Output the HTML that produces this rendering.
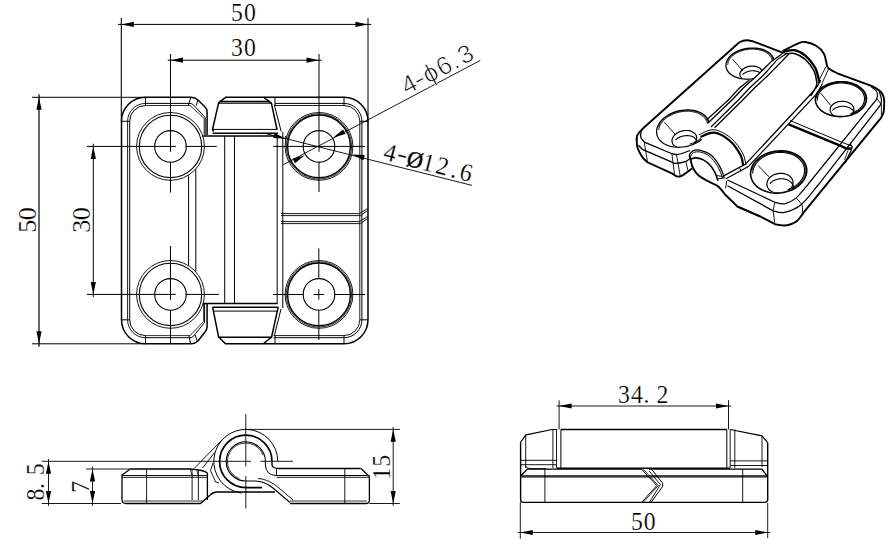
<!DOCTYPE html>
<html><head><meta charset="utf-8"><style>
html,body{margin:0;padding:0;background:#fff;width:895px;height:550px;overflow:hidden}
svg{display:block}
svg line, svg path, svg circle{stroke:#000;fill:none;stroke-linecap:butt}
svg .f{fill:#000;stroke:none}
svg path.w{fill:#fff;stroke:none}
svg text{fill:#000}
.serif{font-family:"Liberation Serif",serif}
.sans{font-family:"Liberation Sans",sans-serif}
</style></head><body>
<svg width="895" height="550" viewBox="0 0 895 550">
<rect width="895" height="550" fill="#fff"/>
<line x1="121.3" y1="18" x2="121.3" y2="121.3" stroke-width="1.1"/>
<line x1="368" y1="18" x2="368" y2="121.3" stroke-width="1.0"/>
<line x1="118" y1="24.4" x2="371.3" y2="24.4" stroke-width="1.0"/>
<polygon class="f" points="121.30,24.40 133.80,21.80 133.80,27.00"/>
<polygon class="f" points="368.00,24.40 355.50,27.00 355.50,21.80"/>
<line x1="170.5" y1="54" x2="170.5" y2="151.8" stroke-width="1.0"/>
<line x1="170.5" y1="161.6" x2="170.5" y2="192.5" stroke-width="1.0"/>
<line x1="319" y1="54" x2="319" y2="151.8" stroke-width="1.0"/>
<line x1="319" y1="161.6" x2="319" y2="192" stroke-width="1.0"/>
<line x1="167.8" y1="60.2" x2="321.6" y2="60.2" stroke-width="1.0"/>
<polygon class="f" points="170.50,60.20 183.00,57.60 183.00,62.80"/>
<polygon class="f" points="319.00,60.20 306.50,62.80 306.50,57.60"/>
<line x1="32" y1="97.3" x2="145.5" y2="97.3" stroke-width="1.0"/>
<line x1="32" y1="343.8" x2="145.5" y2="343.8" stroke-width="1.0"/>
<line x1="39" y1="94.3" x2="39" y2="346.7" stroke-width="1.2"/>
<polygon class="f" points="39.00,97.30 41.60,109.80 36.40,109.80"/>
<polygon class="f" points="39.00,343.80 36.40,331.30 41.60,331.30"/>
<line x1="87" y1="146.4" x2="175.8" y2="146.4" stroke-width="1.0"/>
<line x1="185.5" y1="146.4" x2="216.8" y2="146.4" stroke-width="1.0"/>
<line x1="87" y1="294.4" x2="175.8" y2="294.4" stroke-width="1.0"/>
<line x1="185.5" y1="294.4" x2="219" y2="294.4" stroke-width="1.0"/>
<line x1="93.3" y1="143.7" x2="93.3" y2="297.1" stroke-width="1.0"/>
<polygon class="f" points="93.30,146.40 95.90,158.90 90.70,158.90"/>
<polygon class="f" points="93.30,294.40 90.70,281.90 95.90,281.90"/>
<line x1="170.5" y1="246" x2="170.5" y2="299.8" stroke-width="1.0"/>
<line x1="170.5" y1="310" x2="170.5" y2="344" stroke-width="1.0"/>
<line x1="273.2" y1="146.4" x2="364.8" y2="146.4" stroke-width="1.0"/>
<line x1="273" y1="294.5" x2="303.2" y2="294.5" stroke-width="1.0"/>
<line x1="313.5" y1="294.5" x2="324.1" y2="294.5" stroke-width="1.0"/>
<line x1="334.6" y1="294.5" x2="365" y2="294.5" stroke-width="1.0"/>
<line x1="318.8" y1="248.4" x2="318.8" y2="278.7" stroke-width="1.0"/>
<line x1="318.8" y1="289.2" x2="318.8" y2="299.6" stroke-width="1.0"/>
<line x1="318.8" y1="310.3" x2="318.8" y2="340" stroke-width="1.0"/>
<circle cx="170.5" cy="146.4" r="15.8" stroke-width="1.1"/>
<circle cx="170.5" cy="146.4" r="31.2" stroke-width="1.1"/>
<circle cx="170.5" cy="146.4" r="33.9" stroke-width="0.9"/>
<circle cx="319" cy="146.4" r="15.8" stroke-width="1.1"/>
<circle cx="319" cy="146.4" r="31.4" stroke-width="1.4"/>
<circle cx="319" cy="146.4" r="32.65" stroke-width="0.8"/>
<circle cx="319" cy="146.4" r="33.9" stroke-width="0.9"/>
<circle cx="170.5" cy="294.4" r="15.8" stroke-width="1.1"/>
<circle cx="170.5" cy="294.4" r="31.2" stroke-width="1.1"/>
<circle cx="170.5" cy="294.4" r="33.9" stroke-width="0.9"/>
<circle cx="319" cy="294.4" r="15.8" stroke-width="1.1"/>
<circle cx="319" cy="294.4" r="31.4" stroke-width="1.4"/>
<circle cx="319" cy="294.4" r="32.65" stroke-width="0.8"/>
<circle cx="319" cy="294.4" r="33.9" stroke-width="0.9"/>
<path d="M207.1,135 L207.1,111.5 Q207.1,109 205,107 L198.5,100.5 Q195,97.3 191,97.3 L145.5,97.3 A24.0,24.0 0 0 0 121.5,121.3 L121.5,319.8 A24.0,24.0 0 0 0 145.5,343.8 L191,343.8 Q195,343.8 198,341 L205,332 Q207.1,329.5 207.1,327 L207.1,304" stroke-width="1.5"/>
<path d="M145.5,103.39999999999999 A17.9,17.9 0 0 0 127.6,121.3 L127.6,319.8 A17.9,17.9 0 0 0 145.5,337.7" stroke-width="0.9"/>
<path d="M145.5,105.5 A15.8,15.8 0 0 0 129.7,121.3 L129.7,319.8 A15.8,15.8 0 0 0 145.5,335.6" stroke-width="1.0"/>
<path d="M145.5,103.39999999999999 L190,103.39999999999999 Q192,103.39999999999999 193.5,104.99999999999999 L205.2,117.5 L205.2,135" stroke-width="1.0"/>
<path d="M145.5,105.5 L190,105.5 L204.2,118.5 L204.2,135" stroke-width="0.8"/>
<path d="M145.5,337.7 L190,337.7 Q192,337.7 193.5,336.2 L204.6,322.5 L204.6,304" stroke-width="1.0"/>
<path d="M145.5,335.6 L190,335.6 L203.6,321.5 L203.6,304" stroke-width="0.8"/>
<line x1="121.5" y1="121.3" x2="129.7" y2="121.3" stroke-width="1.0"/>
<line x1="121.5" y1="319.8" x2="129.7" y2="319.8" stroke-width="1.0"/>
<line x1="145.5" y1="97.3" x2="145.5" y2="105.5" stroke-width="1.0"/>
<line x1="145.5" y1="335.6" x2="145.5" y2="343.8" stroke-width="1.0"/>
<line x1="190.9" y1="97.3" x2="188.2" y2="105.5" stroke-width="1.0"/>
<line x1="197.7" y1="100" x2="196.4" y2="105.5" stroke-width="1.0"/>
<line x1="189" y1="335.6" x2="190.5" y2="343.8" stroke-width="1.0"/>
<line x1="195" y1="335" x2="197.5" y2="341.5" stroke-width="1.0"/>
<line x1="188.6" y1="175.2" x2="188.6" y2="265.6" stroke-width="1.0"/>
<line x1="195.8" y1="169.2" x2="195.8" y2="271.6" stroke-width="1.0"/>
<path d="M202.3,136 L278,136" stroke-width="1.3"/>
<path d="M203,303.5 L277.5,303.5" stroke-width="1.3"/>
<line x1="224.7" y1="136" x2="224.7" y2="303.5" stroke-width="1.0"/>
<line x1="234.5" y1="136" x2="234.5" y2="303.5" stroke-width="1.0"/>
<path d="M213.8,131.5 Q212.4,130.5 212.6,129 L218.7,102.6 L225.7,97.3 L263.9,97.3 L271.4,103.2 L277,129.5" stroke-width="1.5"/>
<line x1="219.5" y1="101.4" x2="270" y2="101.4" stroke-width="1.1"/>
<line x1="218.7" y1="103.2" x2="271.2" y2="103.2" stroke-width="1.3"/>
<line x1="212.4" y1="129.4" x2="277.5" y2="129.4" stroke-width="1.0"/>
<line x1="212.6" y1="133.2" x2="278" y2="133.2" stroke-width="1.4"/>
<line x1="274.2" y1="104.5" x2="281.2" y2="131.5" stroke-width="1.0"/>
<path d="M212.6,307.2 L218.6,337 L225.5,343.8 L263.2,343.8 L271.6,337 L278.2,307.2" stroke-width="1.5"/>
<line x1="212.6" y1="307.2" x2="278.2" y2="307.2" stroke-width="1.6"/>
<line x1="213.2" y1="311.1" x2="277.5" y2="311.1" stroke-width="1.0"/>
<line x1="218.6" y1="337.2" x2="271.6" y2="337.2" stroke-width="1.4"/>
<line x1="281" y1="309" x2="274.3" y2="336" stroke-width="1.0"/>
<path d="M263.9,97.3 L344.0,97.3 A24.0,24.0 0 0 1 368.0,121.3 L368.0,319.8 A24.0,24.0 0 0 1 344.0,343.8 L263.6,343.8" stroke-width="1.5"/>
<path d="M275,103.39999999999999 L344.0,103.39999999999999 A17.9,17.9 0 0 1 361.9,121.3 L361.9,319.8 A17.9,17.9 0 0 1 344.0,337.7 L273.6,337.7" stroke-width="1.0"/>
<path d="M275,105.5 L344.0,105.5 A15.8,15.8 0 0 1 359.8,121.3 L359.8,319.8 A15.8,15.8 0 0 1 344.0,335.6 L273.6,335.6" stroke-width="0.9"/>
<line x1="275" y1="97.3" x2="275" y2="105.5" stroke-width="1.0"/>
<line x1="344.0" y1="97.3" x2="344.0" y2="105.5" stroke-width="1.0"/>
<line x1="359.8" y1="121.3" x2="368.0" y2="121.3" stroke-width="1.0"/>
<line x1="359.8" y1="319.8" x2="368.0" y2="319.8" stroke-width="1.0"/>
<line x1="344.0" y1="335.6" x2="344.0" y2="343.8" stroke-width="1.0"/>
<line x1="275" y1="335.6" x2="275" y2="343.8" stroke-width="1.0"/>
<line x1="277.2" y1="136" x2="277.2" y2="303.5" stroke-width="1.0"/>
<line x1="282.8" y1="132" x2="282.8" y2="308" stroke-width="1.0"/>
<line x1="285.5" y1="136" x2="285.5" y2="140" stroke-width="0.8"/>
<path d="M281,213.6 L359.5,213.6 L367.6,208.5" stroke-width="0.9"/>
<path d="M281,215.6 L360.5,215.6 L367.6,210.5" stroke-width="0.9"/>
<path d="M281,221.6 L359.5,221.6 L367.6,216.5" stroke-width="0.9"/>
<path d="M281,223.6 L360.5,223.6 L367.6,218.5" stroke-width="0.9"/>
<line x1="283.4" y1="164.6" x2="480.3" y2="60.4" stroke-width="0.9"/>
<polygon class="f" points="304.80,155.20 294.95,163.32 292.53,158.72"/>
<polygon class="f" points="333.20,137.60 343.05,129.48 345.47,134.08"/>
<line x1="263.5" y1="133" x2="472" y2="185.4" stroke-width="0.9"/>
<polygon class="f" points="352.00,154.50 364.75,155.11 363.45,160.14"/>
<polygon class="f" points="286.00,138.70 273.25,138.09 274.55,133.06"/>
<g transform="translate(0,20.8) rotate(0)">
<text class="serif" x="0" y="0" transform="translate(236.9,0) scale(0.95,1)" font-size="25" text-anchor="middle" stroke="#fff" stroke-width="0.2" >5</text>
<text class="serif" x="0" y="0" transform="translate(250,0) scale(0.95,1)" font-size="25" text-anchor="middle" stroke="#fff" stroke-width="0.2" >0</text>
</g>
<g transform="translate(0,56.4) rotate(0)">
<text class="serif" x="0" y="0" transform="translate(236.9,0) scale(0.95,1)" font-size="25" text-anchor="middle" stroke="#fff" stroke-width="0.2" >3</text>
<text class="serif" x="0" y="0" transform="translate(250,0) scale(0.95,1)" font-size="25" text-anchor="middle" stroke="#fff" stroke-width="0.2" >0</text>
</g>
<g transform="translate(35.6,232) rotate(-90)">
<text class="serif" x="0" y="0" transform="translate(5.7,0) scale(1.0,1)" font-size="26" text-anchor="middle" stroke="#fff" stroke-width="0.2" >5</text>
<text class="serif" x="0" y="0" transform="translate(18.15,0) scale(1.0,1)" font-size="26" text-anchor="middle" stroke="#fff" stroke-width="0.2" >0</text>
</g>
<g transform="translate(89.8,232) rotate(-90)">
<text class="serif" x="0" y="0" transform="translate(5.7,0) scale(1.0,1)" font-size="26" text-anchor="middle" stroke="#fff" stroke-width="0.2" >3</text>
<text class="serif" x="0" y="0" transform="translate(18.15,0) scale(1.0,1)" font-size="26" text-anchor="middle" stroke="#fff" stroke-width="0.2" >0</text>
</g>
<line x1="41.8" y1="461.3" x2="251" y2="461.3" stroke-width="0.9"/>
<line x1="41.8" y1="503.5" x2="121" y2="503.5" stroke-width="0.9"/>
<line x1="86" y1="469" x2="130.3" y2="469" stroke-width="0.9"/>
<line x1="48.5" y1="459" x2="48.5" y2="505.8" stroke-width="0.9"/>
<polygon class="f" points="48.50,461.30 51.10,473.80 45.90,473.80"/>
<polygon class="f" points="48.50,503.50 45.90,491.00 51.10,491.00"/>
<line x1="92.5" y1="466.7" x2="92.5" y2="505.8" stroke-width="0.9"/>
<polygon class="f" points="92.50,469.00 95.10,481.50 89.90,481.50"/>
<polygon class="f" points="92.50,503.50 89.90,491.00 95.10,491.00"/>
<line x1="245.8" y1="429.4" x2="399.9" y2="429.4" stroke-width="0.9"/>
<line x1="369.3" y1="503.5" x2="399.9" y2="503.5" stroke-width="0.9"/>
<line x1="393.2" y1="427" x2="393.2" y2="505.8" stroke-width="0.9"/>
<polygon class="f" points="393.20,429.20 395.80,441.70 390.60,441.70"/>
<polygon class="f" points="393.20,503.50 390.60,491.00 395.80,491.00"/>
<line x1="245.8" y1="414.2" x2="245.8" y2="466.5" stroke-width="0.9"/>
<line x1="245.8" y1="476" x2="245.8" y2="508.5" stroke-width="0.9"/>
<line x1="260.3" y1="461.3" x2="293" y2="461.3" stroke-width="0.9"/>
<path d="M277.80,461.40 A32,32 0 1 0 241.35,493.09" stroke-width="1.0"/>
<path d="M272.00,461.40 A26.2,26.2 0 1 0 245.80,487.60 L262,487.6" stroke-width="1.7"/>
<path d="M265.40,461.40 A19.6,19.6 0 1 0 245.80,481.00 L255,481 C262,481 268,484 273,488 L290,502.5" stroke-width="1.1"/>
<path d="M263.09,455.11 A18.4,18.4 0 1 0 239.51,478.69" stroke-width="0.8"/>
<path d="M258,478.5 C266,479 273,483 279,488 L293,500" stroke-width="0.9"/>
<path d="M265.4,461.4 L265.4,465 Q266,475.5 276.5,475.5 L369.3,475.5" stroke-width="1.0"/>
<path d="M272,461.4 L272,465 Q272.5,468.5 279,468.5 L360.7,468.5" stroke-width="1.4"/>
<line x1="276.5" y1="468.5" x2="276.5" y2="476" stroke-width="0.9"/>
<line x1="276.7" y1="477.3" x2="369.3" y2="477.3" stroke-width="0.9"/>
<path d="M130.3,469 L190.2,469 Q204.2,470 207.4,473.1 L207.4,499.9" stroke-width="1.3"/>
<path d="M130.3,469 L122,475 L122,499.5 Q122,503.5 126,503.5 L200.4,503.5 L210.5,494.8 Q213,492 217,492 L275,492" stroke-width="1.3"/>
<line x1="124" y1="501" x2="202.5" y2="501" stroke-width="0.8"/>
<line x1="122" y1="475.5" x2="208" y2="475.5" stroke-width="0.9"/>
<line x1="122" y1="477.3" x2="208" y2="477.3" stroke-width="0.9"/>
<line x1="146.6" y1="469" x2="146.6" y2="503.1" stroke-width="0.9"/>
<line x1="192.1" y1="469" x2="192.1" y2="500" stroke-width="0.9"/>
<line x1="198.4" y1="470" x2="198.4" y2="500" stroke-width="0.9"/>
<line x1="190.2" y1="469" x2="192.1" y2="475.7" stroke-width="0.8"/>
<line x1="196.5" y1="469.3" x2="198.4" y2="475.7" stroke-width="0.8"/>
<line x1="194" y1="468.5" x2="222" y2="440" stroke-width="0.9"/>
<line x1="202.5" y1="468" x2="215" y2="452" stroke-width="0.9"/>
<path d="M213,463 L210.5,470.6 L215.6,482 L219,483" stroke-width="0.9"/>
<path d="M361,468.5 L369.4,476.5 L369.4,500 Q369.4,503.5 366,503.5 L290,503.5" stroke-width="1.3"/>
<line x1="290" y1="501" x2="367" y2="501" stroke-width="0.8"/>
<line x1="344.8" y1="468.5" x2="344.8" y2="503.5" stroke-width="0.9"/>
<g transform="translate(44.3,500) rotate(-90)">
<text class="serif" x="0" y="0" transform="translate(5.5,0) scale(0.95,1)" font-size="25" text-anchor="middle" stroke="#fff" stroke-width="0.2" >8</text>
<text class="serif" x="0" y="0" transform="translate(14,0) scale(0.95,1)" font-size="25" text-anchor="middle" stroke="#fff" stroke-width="0.2" >.</text>
<text class="serif" x="0" y="0" transform="translate(30.7,0) scale(0.95,1)" font-size="25" text-anchor="middle" stroke="#fff" stroke-width="0.2" >5</text>
</g>
<g transform="translate(89,500) rotate(-90)">
<text class="serif" x="0" y="0" transform="translate(13.2,0) scale(0.95,1)" font-size="25" text-anchor="middle" stroke="#fff" stroke-width="0.2" >7</text>
</g>
<g transform="translate(389.5,480) rotate(-90)">
<text class="serif" x="0" y="0" transform="translate(6.4,0) scale(0.95,1)" font-size="25" text-anchor="middle" stroke="#fff" stroke-width="0.2" >1</text>
<text class="serif" x="0" y="0" transform="translate(19.3,0) scale(0.95,1)" font-size="25" text-anchor="middle" stroke="#fff" stroke-width="0.2" >5</text>
</g>
<line x1="559.1" y1="400.3" x2="559.1" y2="429.5" stroke-width="0.9"/>
<line x1="728.5" y1="400.2" x2="728.5" y2="429.5" stroke-width="0.9"/>
<line x1="556.6" y1="406" x2="731" y2="406" stroke-width="0.9"/>
<polygon class="f" points="559.10,406.00 571.60,403.40 571.60,408.60"/>
<polygon class="f" points="728.50,406.00 716.00,408.60 716.00,403.40"/>
<line x1="520.3" y1="502" x2="520.3" y2="538.8" stroke-width="0.9"/>
<line x1="767.7" y1="503" x2="767.7" y2="538.2" stroke-width="0.9"/>
<line x1="517.8" y1="532.5" x2="770.2" y2="532.5" stroke-width="0.9"/>
<polygon class="f" points="520.30,532.50 532.80,529.90 532.80,535.10"/>
<polygon class="f" points="767.70,532.50 755.20,535.10 755.20,529.90"/>
<g transform="translate(0,402.7) rotate(0)">
<text class="serif" x="0" y="0" transform="translate(624,0) scale(0.95,1)" font-size="25" text-anchor="middle" stroke="#fff" stroke-width="0.2" >3</text>
<text class="serif" x="0" y="0" transform="translate(636.9,0) scale(0.95,1)" font-size="25" text-anchor="middle" stroke="#fff" stroke-width="0.2" >4</text>
<text class="serif" x="0" y="0" transform="translate(646.5,0) scale(0.95,1)" font-size="25" text-anchor="middle" stroke="#fff" stroke-width="0.2" >.</text>
<text class="serif" x="0" y="0" transform="translate(662.5,0) scale(0.95,1)" font-size="25" text-anchor="middle" stroke="#fff" stroke-width="0.2" >2</text>
</g>
<g transform="translate(0,529.5) rotate(0)">
<text class="serif" x="0" y="0" transform="translate(636.9,0) scale(0.95,1)" font-size="25" text-anchor="middle" stroke="#fff" stroke-width="0.2" >5</text>
<text class="serif" x="0" y="0" transform="translate(649.6,0) scale(0.95,1)" font-size="25" text-anchor="middle" stroke="#fff" stroke-width="0.2" >0</text>
</g>
<path d="M641.4,469.1 L527.4,469.1 L520.6,476 M520.6,442.2 L520.6,499.5 Q520.6,502.4 524,502.4 L764,502.4 Q767.7,502.4 767.7,499.5 L767.7,442.7 M767.7,476.8 L762,469.1 L652,469.1" stroke-width="1.4"/>
<line x1="520.9" y1="476.9" x2="767.7" y2="476.9" stroke-width="1.3"/>
<line x1="520.9" y1="475.6" x2="767.7" y2="475.6" stroke-width="0.8"/>
<line x1="544.9" y1="469" x2="544.9" y2="502.4" stroke-width="0.9"/>
<line x1="742.7" y1="469" x2="742.7" y2="502.4" stroke-width="0.9"/>
<line x1="560.9" y1="429.5" x2="726.8" y2="429.5" stroke-width="1.3"/>
<line x1="557" y1="468.3" x2="730" y2="468.3" stroke-width="1.5"/>
<path d="M520.6,442.2 L526,434.9 L552.2,429.5 L557.2,429.5" stroke-width="1.2"/>
<line x1="525.7" y1="434.9" x2="525.7" y2="468" stroke-width="0.9"/>
<line x1="552.9" y1="429.5" x2="552.9" y2="468" stroke-width="0.9"/>
<line x1="556.5" y1="429.5" x2="556.5" y2="468" stroke-width="0.9"/>
<line x1="560.9" y1="429.5" x2="560.9" y2="468" stroke-width="1.0"/>
<line x1="520.6" y1="460.3" x2="557" y2="460.3" stroke-width="0.9"/>
<line x1="520.6" y1="464.7" x2="557" y2="464.7" stroke-width="0.9"/>
<path d="M525.7,466 Q526.5,468.6 530,468.6 L546,468.6" stroke-width="0.9"/>
<path d="M730.2,429.5 L762,435.9 L767.7,442.7" stroke-width="1.2"/>
<line x1="726.8" y1="429.5" x2="726.8" y2="468" stroke-width="1.0"/>
<line x1="730.2" y1="429.5" x2="730.2" y2="468" stroke-width="0.9"/>
<line x1="734.8" y1="429.5" x2="734.8" y2="468" stroke-width="0.9"/>
<line x1="762" y1="435.9" x2="762" y2="467" stroke-width="0.9"/>
<line x1="730" y1="460.9" x2="767.7" y2="460.9" stroke-width="0.9"/>
<line x1="730" y1="465.5" x2="767.7" y2="465.5" stroke-width="0.9"/>
<path d="M641.4,469.1 L656.8,485.5 L641.8,502.2" stroke-width="1.0"/>
<path d="M643.2,469.1 L658.3,485.5 L643.4,502.2" stroke-width="0.8"/>
<path d="M649.1,469.6 Q651,468.6 652,469.8 L662.2,482.6 Q663.6,485 662.2,487 L651.2,502.2" stroke-width="1.0"/>
<path d="M649.1,471 L660.4,484.6 L649.5,502.2" stroke-width="0.9"/>
<g transform="translate(413.0,92.0) rotate(-27.9)">
<text class="sans" x="0" y="0" transform="translate(0,0) scale(1.0,1)" font-size="25.5" text-anchor="middle" stroke="#fff" stroke-width="0.7" >4</text>
<text class="sans" x="0" y="0"  font-size="25.5" text-anchor="middle" stroke="#fff" stroke-width="0.7" transform="translate(11.4,-0.5) scale(1.3,1)">-</text>
<text class="sans" x="0" y="0" transform="translate(24.1,0) scale(1.0,1)" font-size="25.5" text-anchor="middle" stroke="#fff" stroke-width="0.7" >&#981;</text>
<text class="sans" x="0" y="0" transform="translate(39.6,0) scale(1.0,1)" font-size="25.5" text-anchor="middle" stroke="#fff" stroke-width="0.7" >6</text>
<text class="sans" x="0" y="0" transform="translate(51.1,0) scale(1.0,1)" font-size="25.5" text-anchor="middle" stroke="#fff" stroke-width="0.7" >.</text>
<text class="sans" x="0" y="0" transform="translate(64,0) scale(1.0,1)" font-size="25.5" text-anchor="middle" stroke="#fff" stroke-width="0.7" >3</text>
</g>
<g transform="translate(388.2,160.8) rotate(14.5)">
<text class="serif" x="0" y="0" transform="translate(0,0) scale(0.95,1)" font-size="25.5" text-anchor="middle" stroke="#fff" stroke-width="0.2" >4</text>
<text class="serif" x="0" y="0"  font-size="25.5" text-anchor="middle" stroke="#fff" stroke-width="0.2" transform="translate(12.4,-2) scale(1.2,1)">-</text>
<text class="serif" x="0" y="0" transform="translate(25.7,0) scale(0.95,1)" font-size="25.5" text-anchor="middle" stroke="#fff" stroke-width="0.2" style="font-size:23px;stroke:#000;stroke-width:0.45px">&#216;</text>
<text class="serif" x="0" y="0" transform="translate(39.4,0) scale(0.95,1)" font-size="25.5" text-anchor="middle" stroke="#fff" stroke-width="0.2" >1</text>
<text class="serif" x="0" y="0" transform="translate(54,0) scale(0.95,1)" font-size="25.5" text-anchor="middle" stroke="#fff" stroke-width="0.2" >2</text>
<text class="serif" x="0" y="0" transform="translate(66.5,0) scale(0.95,1)" font-size="25.5" text-anchor="middle" stroke="#fff" stroke-width="0.2" >.</text>
<text class="serif" x="0" y="0" transform="translate(78.5,0) scale(0.95,1)" font-size="25.5" text-anchor="middle" stroke="#fff" stroke-width="0.2" >6</text>
</g>
<path d="M636.7,140.0 C636.8,139.2 636.6,137.0 637.2,135.5 C637.8,134.0 639.4,132.3 640.5,131.0 C641.6,129.7 643.4,128.1 644.0,127.5 L733.5,47.5  C734.6,46.6 737.8,43.2 740.0,42.0 C742.2,40.8 744.6,40.3 746.7,40.2 C748.8,40.1 751.5,41.0 752.5,41.2 L784.5,53.3" stroke-width="1.9" />
<path d="M636.7,138.5 C636.8,140.1 636.5,144.7 637.5,147.8 C638.5,150.9 640.7,154.7 642.4,157.1 C644.1,159.5 646.6,161.4 647.5,162.3 L672.4,173.7  C673.1,174.1 675.0,176.0 676.6,176.3 C678.2,176.7 679.1,177.1 681.7,175.8 C684.3,174.5 690.4,169.7 692.1,168.5" stroke-width="1.9" />
<path d="M644.0,127.5 C643.5,128.1 641.8,129.5 641.3,131.2 C640.8,132.8 640.3,135.6 640.8,137.4 C641.3,139.2 643.8,141.3 644.4,142.1 L671.4,153.5  C672.1,153.7 673.7,154.5 675.5,154.5 C677.3,154.5 679.6,154.2 682.0,153.5 C684.4,152.8 688.7,151.0 690.0,150.5" stroke-width="1.3" />
<path d="M638.4,145.2 C639.1,145.9 641.7,148.7 642.4,149.4 L671.4,161.8  C672.1,162.1 673.1,163.4 675.5,163.3 C677.9,163.2 683.5,162.2 685.9,161.3 C688.3,160.5 689.3,158.7 690.0,158.2" stroke-width="1.3" />
<path d="M644.4,143.1 L647.5,161.8" stroke-width="0.9" />
<path d="M671.9,154.0 L674.5,174.2" stroke-width="0.9" />
<path d="M676.6,155.0 L680.2,175.8" stroke-width="0.9" />
<path d="M685.9,161.8 L688.0,170.6" stroke-width="0.9" />
<path d="M827.6,67.6 C828.4,68.1 830.8,69.9 832.5,70.9 C834.2,71.9 837.1,73.1 838.0,73.6 L872.7,86.4  C874.0,87.2 878.5,89.6 880.3,91.3 C882.1,93.0 883.0,94.9 883.6,96.7 C884.2,98.5 884.2,99.7 884.2,102.2 C884.2,104.8 884.1,109.5 883.6,112.0 C883.1,114.5 881.8,116.5 881.4,117.4 L803.1,213.2  C802.1,214.5 799.2,219.1 797.0,221.0 C794.8,222.9 792.1,223.8 790.0,224.5 C787.9,225.2 786.8,225.5 784.5,225.5 C782.2,225.5 777.4,224.7 776.0,224.5 L760,216.4 L737.6,206.7" stroke-width="1.9" />
<path d="M871.0,86.6 C871.8,87.2 874.9,89.1 876.0,90.5 C877.1,91.9 877.4,93.7 877.5,95.2 C877.6,96.7 876.7,98.8 876.5,99.5 L807.5,185  C805.6,187.2 799.8,195.0 796.0,198.1 C792.2,201.2 788.0,203.1 784.5,203.8 C781.0,204.5 776.3,202.5 774.7,202.2 L727.5,180" stroke-width="1.2" />
<path d="M879.3,91.3 C879.6,92.6 881.1,96.7 881.4,98.9 C881.7,101.1 881.0,103.5 880.9,104.4 L818.1,185  C815.4,188.2 807.3,199.6 801.7,204.2 C796.1,208.8 789.3,211.3 784.5,212.4 C779.7,213.5 775.0,211.1 773.1,210.8 L727.5,185.7" stroke-width="1.2" />
<path d="M773.1,210.8 L774.7,222.6" stroke-width="0.9" />
<path d="M802.1,204.6 L803.0,215.3" stroke-width="0.9" />
<path d="M877.0,98.9 L881.4,104.4" stroke-width="0.9" />
<path d="M881.4,104.4 L881.4,116.3" stroke-width="0.9" />
<path d="M774.7,202.6 L773.1,210.8" stroke-width="0.9" />
<path d="M796.8,198.5 L801.7,204.2" stroke-width="0.9" />
<path d="M790.2,120.6 L841.1,142.0 L852.0,146.1" stroke-width="1.0" />
<path d="M788.6,124.3 L840.2,145.7 L845.6,148.2 L851.1,148.7" stroke-width="2.4" />
<path d="M849.7,144.0 L852.2,146.6 L850.9,151.0 L846.5,160.0 L845.2,163.0" stroke-width="1.3" />
<path d="M848.5,149.0 L846.0,156.0 L844.5,160.0" stroke-width="0.8" />
<clipPath id="hc0"><path d="M769.3,70.7 L768.0,71.9 L766.6,73.0 L765.1,74.0 L763.4,75.0 L761.6,75.8 L759.7,76.6 L757.8,77.2 L755.7,77.8 L753.7,78.2 L751.5,78.5 L749.4,78.7 L747.3,78.7 L745.2,78.7 L743.2,78.5 L741.2,78.2 L739.2,77.7 L737.4,77.2 L735.7,76.5 L734.1,75.8 L732.6,74.9 L731.2,73.9 L730.0,72.9 L729.0,71.8 L728.2,70.6 L727.5,69.4 L727.0,68.1 L726.7,66.8 L726.5,65.5 L726.6,64.2 L726.8,62.8 L727.2,61.5 L727.8,60.2 L728.6,58.9 L729.5,57.6 L730.6,56.4 L731.8,55.3 L733.2,54.2 L734.6,53.2 L736.2,52.3 L737.9,51.4 L739.7,50.7 L741.6,50.0 L743.5,49.5 L745.5,49.0 L747.5,48.7 L749.5,48.5 L751.6,48.4 L753.6,48.4 L755.6,48.5 L757.5,48.7 L759.4,49.1 L761.2,49.5 L763.0,50.1 L764.6,50.7 L766.1,51.5 L767.6,52.3 L768.8,53.3 L770.0,54.3 L771.0,55.4 L771.8,56.5 L772.5,57.7 L773.0,59.0 L773.3,60.3 L773.4,61.6 L773.4,62.9 L773.1,64.3 L772.7,65.6 L772.1,66.9 L771.4,68.2 L770.4,69.5 L769.3,70.7 Z"/></clipPath>
<path d="M769.8,70.9 L768.5,72.1 L767.1,73.3 L765.5,74.3 L763.8,75.3 L761.9,76.2 L760.0,77.0 L758.0,77.6 L755.9,78.2 L753.8,78.6 L751.6,78.9 L749.4,79.1 L747.2,79.2 L745.1,79.1 L743.0,78.9 L740.9,78.6 L738.9,78.1 L737.1,77.6 L735.3,76.9 L733.6,76.1 L732.1,75.2 L730.7,74.2 L729.5,73.2 L728.4,72.0 L727.6,70.8 L726.9,69.6 L726.4,68.3 L726.0,66.9 L725.9,65.6 L726.0,64.2 L726.2,62.8 L726.6,61.4 L727.2,60.1 L728.0,58.8 L729.0,57.5 L730.1,56.2 L731.3,55.1 L732.7,54.0 L734.2,52.9 L735.9,52.0 L737.6,51.1 L739.5,50.3 L741.4,49.7 L743.4,49.1 L745.4,48.7 L747.4,48.3 L749.5,48.1 L751.6,48.0 L753.7,48.0 L755.7,48.1 L757.7,48.3 L759.7,48.7 L761.5,49.1 L763.3,49.7 L765.0,50.4 L766.6,51.2 L768.0,52.0 L769.4,53.0 L770.5,54.0 L771.5,55.1 L772.4,56.3 L773.1,57.6 L773.6,58.8 L773.9,60.2 L774.1,61.5 L774.0,62.9 L773.8,64.3 L773.3,65.7 L772.7,67.0 L771.9,68.4 L771.0,69.7 L769.8,70.9 Z" stroke-width="1.25" />
<path d="M727.2,62.6 L727.4,61.7 L727.8,60.9 L728.2,60.0 L728.7,59.2 L729.2,58.4 L729.8,57.6 L730.5,56.8 L731.3,56.1 L732.1,55.4 L732.9,54.7 L733.8,54.0 L734.8,53.3 L735.8,52.7 L736.9,52.2 L738.0,51.6 L739.1,51.1 L740.3,50.7 L741.5,50.3 L742.7,49.9 L743.9,49.6 L745.2,49.3 L746.5,49.0 L747.8,48.8 L749.1,48.7 L750.4,48.6 L751.7,48.5 L753.0,48.5 L754.3,48.6 L755.5,48.7 L756.8,48.8 L758.0,49.0 L759.2,49.2 L760.4,49.5 L761.6,49.8 L762.7,50.2 L763.8,50.6 L764.8,51.0 L765.8,51.5 L766.7,52.0 L767.6,52.6 L768.4,53.2 L769.2,53.8 L769.9,54.5 L770.5,55.2 L771.1,55.9 L771.6,56.7 L772.0,57.4 L772.4,58.2 L772.7,59.0 L772.9,59.9 L773.1,60.7 L773.1,61.6 L773.1,62.4 L773.0,63.3 L772.9,64.2 L772.6,65.0 L772.3,65.9 L771.9,66.7 L771.5,67.6 L770.9,68.4 L770.3,69.2 L769.7,70.0 L768.9,70.8 L768.1,71.5 L767.2,72.3 L766.3,73.0 L765.3,73.6 L764.3,74.3 L763.2,74.9 L762.1,75.4 L760.9,75.9" stroke-width="0.75" />
<path d="M727.7,64.9 L727.8,64.0 L728.0,63.1 L728.2,62.2 L728.5,61.3 L728.9,60.4 L729.4,59.6 L729.9,58.7 L730.6,57.9 L731.2,57.1 L732.0,56.3 L732.9,55.6 L733.8,54.9 L734.7,54.2 L735.7,53.5 L736.8,52.9 L737.9,52.3 L739.1,51.8 L740.3,51.3 L741.5,50.9 L742.8,50.5 L744.0,50.1 L745.4,49.8 L746.7,49.6 L748.0,49.4 L749.4,49.2 L750.7,49.1 L752.1,49.1 L753.4,49.1 L754.7,49.2 L756.0,49.3 L757.3,49.5 L758.6,49.7 L759.8,50.0 L761.0,50.3 L762.1,50.7 L763.3,51.1 L764.3,51.6 L765.3,52.1 L766.3,52.6 L767.2,53.2 L768.0,53.8 L768.8,54.5 L769.5,55.2 L770.1,56.0 L770.6,56.7 L771.1,57.5 L771.5,58.3 L771.8,59.2 L772.0,60.0 L772.2,60.9 L772.2,61.8 L772.2,62.7 L772.1,63.6 L771.9,64.5 L771.6,65.4 L771.2,66.2 L770.8,67.1 L770.2,68.0 L769.6,68.8 L768.9,69.7 L768.2,70.5 L767.3,71.2 L766.4,72.0 L765.5,72.7 L764.4,73.4 L763.3,74.0 L762.2,74.6 L761.0,75.2 L759.8,75.7 L758.5,76.1 L757.2,76.6" stroke-width="0.9" />
<path d="M760.3,77.0 L759.7,77.6 L759.0,78.1 L758.3,78.6 L757.5,79.1 L756.6,79.5 L755.7,79.8 L754.8,80.1 L753.8,80.4 L752.9,80.6 L751.9,80.7 L750.9,80.8 L749.9,80.8 L748.9,80.8 L747.9,80.7 L747.0,80.6 L746.0,80.4 L745.2,80.1 L744.3,79.8 L743.6,79.4 L742.9,79.0 L742.2,78.6 L741.6,78.1 L741.1,77.5 L740.7,77.0 L740.4,76.4 L740.1,75.8 L740.0,75.1 L739.9,74.5 L739.9,73.8 L740.0,73.2 L740.2,72.5 L740.5,71.9 L740.8,71.3 L741.3,70.7 L741.8,70.1 L742.3,69.5 L743.0,69.0 L743.7,68.5 L744.5,68.0 L745.3,67.6 L746.1,67.2 L747.0,66.9 L748.0,66.6 L748.9,66.4 L749.9,66.3 L750.9,66.1 L751.9,66.1 L752.8,66.1 L753.8,66.2 L754.7,66.3 L755.7,66.4 L756.5,66.7 L757.4,66.9 L758.2,67.3 L758.9,67.6 L759.6,68.1 L760.2,68.5 L760.7,69.0 L761.2,69.6 L761.6,70.1 L761.9,70.7 L762.1,71.3 L762.3,72.0 L762.3,72.6 L762.3,73.3 L762.2,73.9 L762.0,74.6 L761.7,75.2 L761.3,75.8 L760.8,76.4 L760.3,77.0 Z" stroke-width="1.2" clip-path="url(#hc0)"/>
<path d="M742.6,74.5 L742.9,74.2 L743.2,74.0 L743.5,73.7 L743.9,73.4 L744.2,73.2 L744.6,73.0 L745.0,72.7 L745.4,72.5 L745.8,72.3 L746.2,72.1 L746.7,71.9 L747.1,71.8 L747.6,71.6 L748.0,71.5 L748.5,71.3 L749.0,71.2 L749.5,71.1 L749.9,71.0 L750.4,71.0 L750.9,70.9 L751.4,70.8 L751.9,70.8 L752.4,70.8 L752.9,70.8 L753.4,70.8 L753.8,70.8 L754.3,70.9 L754.8,70.9 L755.3,71.0 L755.7,71.1 L756.2,71.1 L756.6,71.2 L757.1,71.4 L757.5,71.5 L757.9,71.6 L758.3,71.8 L758.7,72.0 L759.1,72.2 L759.4,72.4 L759.8,72.6 L760.1,72.8 L760.4,73.0 L760.7,73.2 L761.0,73.5 L761.3,73.7 L761.5,74.0 L761.7,74.3 L761.9,74.6 L762.1,74.9 L762.3,75.1 L762.4,75.5 L762.6,75.8 L762.7,76.1 L762.7,76.4 L762.8,76.7 L762.8,77.0 L762.9,77.4 L762.8,77.7 L762.8,78.0 L762.8,78.3 L762.7,78.7 L762.6,79.0 L762.5,79.3 L762.4,79.6 L762.2,80.0 L762.0,80.3 L761.8,80.6 L761.6,80.9 L761.4,81.2 L761.1,81.5 L760.8,81.8" stroke-width="1.1" clip-path="url(#hc0)"/>
<clipPath id="hc1"><path d="M703.3,137.3 L701.8,138.7 L700.1,140.0 L698.3,141.2 L696.4,142.3 L694.4,143.4 L692.2,144.3 L690.0,145.0 L687.7,145.7 L685.4,146.2 L683.1,146.5 L680.8,146.7 L678.4,146.8 L676.2,146.7 L673.9,146.4 L671.8,146.1 L669.8,145.5 L667.8,144.8 L666.0,144.0 L664.3,143.1 L662.8,142.1 L661.5,140.9 L660.3,139.7 L659.3,138.3 L658.5,136.9 L657.9,135.4 L657.5,133.9 L657.3,132.3 L657.3,130.7 L657.5,129.1 L657.9,127.5 L658.5,125.9 L659.3,124.3 L660.3,122.8 L661.4,121.3 L662.7,119.9 L664.2,118.5 L665.8,117.2 L667.5,116.0 L669.4,114.9 L671.3,113.9 L673.3,113.0 L675.4,112.3 L677.6,111.6 L679.8,111.1 L682.0,110.7 L684.2,110.5 L686.4,110.3 L688.6,110.3 L690.8,110.5 L692.9,110.8 L694.9,111.2 L696.8,111.7 L698.6,112.4 L700.4,113.2 L701.9,114.1 L703.4,115.1 L704.7,116.3 L705.8,117.5 L706.8,118.8 L707.6,120.2 L708.2,121.6 L708.6,123.1 L708.8,124.7 L708.8,126.3 L708.6,127.9 L708.2,129.5 L707.6,131.1 L706.8,132.7 L705.8,134.3 L704.6,135.8 L703.3,137.3 Z"/></clipPath>
<path d="M703.9,137.5 L702.3,138.9 L700.6,140.3 L698.8,141.6 L696.8,142.7 L694.7,143.8 L692.5,144.7 L690.2,145.5 L687.9,146.2 L685.5,146.7 L683.1,147.0 L680.7,147.2 L678.3,147.3 L676.0,147.2 L673.7,147.0 L671.5,146.6 L669.4,146.0 L667.4,145.3 L665.5,144.5 L663.8,143.5 L662.2,142.5 L660.9,141.3 L659.7,140.0 L658.6,138.6 L657.8,137.2 L657.2,135.6 L656.8,134.1 L656.6,132.5 L656.6,130.8 L656.8,129.2 L657.2,127.5 L657.9,125.9 L658.7,124.2 L659.7,122.7 L660.8,121.1 L662.2,119.7 L663.7,118.3 L665.3,116.9 L667.1,115.7 L669.0,114.6 L671.0,113.6 L673.1,112.6 L675.2,111.9 L677.4,111.2 L679.7,110.7 L682.0,110.3 L684.2,110.0 L686.5,109.9 L688.8,109.9 L691.0,110.0 L693.1,110.3 L695.2,110.7 L697.2,111.3 L699.1,112.0 L700.8,112.8 L702.4,113.7 L703.9,114.8 L705.3,115.9 L706.4,117.2 L707.4,118.5 L708.2,120.0 L708.8,121.4 L709.2,123.0 L709.5,124.6 L709.5,126.2 L709.3,127.9 L708.9,129.5 L708.3,131.2 L707.4,132.8 L706.4,134.4 L705.2,136.0 L703.9,137.5 Z" stroke-width="1.25" />
<path d="M658.3,127.3 L658.7,126.2 L659.2,125.2 L659.7,124.2 L660.3,123.2 L661.0,122.2 L661.8,121.3 L662.6,120.4 L663.5,119.5 L664.5,118.6 L665.5,117.8 L666.5,117.0 L667.7,116.2 L668.8,115.5 L670.0,114.8 L671.3,114.2 L672.6,113.6 L673.9,113.0 L675.3,112.6 L676.6,112.1 L678.0,111.7 L679.4,111.4 L680.9,111.1 L682.3,110.9 L683.7,110.7 L685.1,110.6 L686.6,110.5 L688.0,110.5 L689.4,110.6 L690.7,110.7 L692.1,110.9 L693.4,111.1 L694.7,111.4 L695.9,111.7 L697.2,112.1 L698.3,112.5 L699.4,113.0 L700.5,113.6 L701.5,114.2 L702.5,114.8 L703.4,115.5 L704.2,116.2 L705.0,117.0 L705.7,117.8 L706.3,118.6 L706.8,119.5 L707.3,120.4 L707.7,121.3 L708.0,122.3 L708.3,123.2 L708.4,124.2 L708.5,125.2 L708.5,126.2 L708.4,127.3 L708.2,128.3 L707.9,129.4 L707.6,130.4 L707.1,131.4 L706.6,132.4 L706.0,133.5 L705.3,134.5 L704.6,135.4 L703.8,136.4 L702.9,137.3 L701.9,138.2 L700.9,139.1 L699.8,139.9 L698.6,140.7 L697.4,141.5 L696.2,142.2 L694.9,142.9 L693.5,143.5" stroke-width="0.75" />
<path d="M658.7,130.0 L658.9,128.9 L659.1,127.9 L659.5,126.8 L659.9,125.7 L660.4,124.7 L661.1,123.7 L661.8,122.7 L662.5,121.7 L663.4,120.7 L664.3,119.8 L665.3,118.9 L666.4,118.0 L667.5,117.2 L668.7,116.4 L669.9,115.7 L671.2,115.0 L672.5,114.4 L673.8,113.8 L675.2,113.3 L676.6,112.8 L678.1,112.4 L679.5,112.1 L681.0,111.8 L682.5,111.5 L683.9,111.4 L685.4,111.3 L686.9,111.2 L688.3,111.2 L689.8,111.3 L691.2,111.5 L692.6,111.7 L693.9,112.0 L695.2,112.3 L696.5,112.7 L697.7,113.1 L698.8,113.6 L699.9,114.2 L701.0,114.8 L702.0,115.5 L702.9,116.2 L703.7,117.0 L704.5,117.8 L705.1,118.6 L705.7,119.5 L706.2,120.4 L706.7,121.4 L707.0,122.4 L707.3,123.4 L707.4,124.4 L707.5,125.5 L707.4,126.5 L707.3,127.6 L707.1,128.7 L706.8,129.7 L706.4,130.8 L705.9,131.9 L705.3,132.9 L704.6,133.9 L703.9,135.0 L703.0,135.9 L702.1,136.9 L701.1,137.8 L700.0,138.7 L698.9,139.6 L697.7,140.4 L696.4,141.2 L695.1,141.9 L693.8,142.6 L692.4,143.2 L690.9,143.7 L689.4,144.2" stroke-width="0.9" />
<path d="M694.0,143.6 L693.2,144.3 L692.4,144.9 L691.6,145.5 L690.7,146.1 L689.7,146.5 L688.7,147.0 L687.6,147.3 L686.6,147.6 L685.5,147.9 L684.4,148.0 L683.3,148.1 L682.2,148.2 L681.1,148.1 L680.1,148.0 L679.0,147.8 L678.1,147.6 L677.1,147.2 L676.3,146.9 L675.5,146.4 L674.8,145.9 L674.1,145.4 L673.5,144.8 L673.0,144.1 L672.7,143.5 L672.4,142.7 L672.2,142.0 L672.0,141.2 L672.0,140.5 L672.1,139.7 L672.3,138.9 L672.6,138.1 L672.9,137.4 L673.4,136.6 L673.9,135.9 L674.5,135.2 L675.2,134.5 L676.0,133.9 L676.8,133.3 L677.7,132.7 L678.6,132.2 L679.6,131.8 L680.6,131.4 L681.7,131.1 L682.7,130.8 L683.8,130.6 L684.9,130.5 L686.0,130.5 L687.0,130.5 L688.1,130.5 L689.1,130.7 L690.0,130.9 L691.0,131.2 L691.9,131.5 L692.7,131.9 L693.5,132.4 L694.1,132.9 L694.8,133.4 L695.3,134.0 L695.8,134.7 L696.1,135.3 L696.4,136.1 L696.6,136.8 L696.7,137.5 L696.6,138.3 L696.5,139.1 L696.3,139.9 L696.0,140.7 L695.7,141.4 L695.2,142.2 L694.6,142.9 L694.0,143.6 Z" stroke-width="1.2" clip-path="url(#hc1)"/>
<path d="M675.5,140.0 L675.8,139.7 L676.2,139.3 L676.6,139.0 L677.0,138.7 L677.4,138.4 L677.8,138.1 L678.3,137.9 L678.8,137.6 L679.2,137.4 L679.7,137.1 L680.2,136.9 L680.7,136.7 L681.2,136.5 L681.7,136.4 L682.3,136.2 L682.8,136.1 L683.3,136.0 L683.9,135.9 L684.4,135.8 L684.9,135.7 L685.5,135.6 L686.0,135.6 L686.5,135.6 L687.1,135.6 L687.6,135.6 L688.1,135.6 L688.6,135.7 L689.1,135.7 L689.7,135.8 L690.1,135.9 L690.6,136.0 L691.1,136.1 L691.6,136.3 L692.0,136.5 L692.4,136.6 L692.9,136.8 L693.3,137.0 L693.7,137.3 L694.0,137.5 L694.4,137.7 L694.7,138.0 L695.0,138.3 L695.3,138.6 L695.6,138.9 L695.9,139.2 L696.1,139.5 L696.3,139.8 L696.5,140.1 L696.7,140.5 L696.8,140.9 L697.0,141.2 L697.1,141.6 L697.2,142.0 L697.2,142.3 L697.2,142.7 L697.2,143.1 L697.2,143.5 L697.2,143.9 L697.1,144.3 L697.0,144.7 L696.9,145.1 L696.8,145.5 L696.6,145.9 L696.4,146.2 L696.2,146.6 L696.0,147.0 L695.8,147.4 L695.5,147.8 L695.2,148.1 L694.9,148.5 L694.6,148.8" stroke-width="1.1" clip-path="url(#hc1)"/>
<clipPath id="hc2"><path d="M862.6,107.2 L861.4,108.5 L860.1,109.7 L858.6,110.9 L856.9,111.9 L855.1,112.9 L853.2,113.7 L851.2,114.4 L849.1,115.0 L847.0,115.5 L844.8,115.8 L842.5,116.0 L840.3,116.1 L838.0,116.0 L835.8,115.8 L833.6,115.4 L831.5,114.9 L829.5,114.3 L827.5,113.5 L825.7,112.7 L824.0,111.7 L822.4,110.7 L821.0,109.5 L819.8,108.2 L818.7,106.9 L817.8,105.6 L817.1,104.1 L816.5,102.7 L816.2,101.2 L816.1,99.7 L816.1,98.2 L816.4,96.7 L816.8,95.3 L817.4,93.8 L818.2,92.4 L819.2,91.1 L820.4,89.8 L821.7,88.6 L823.1,87.5 L824.7,86.5 L826.4,85.5 L828.2,84.7 L830.0,84.0 L832.0,83.4 L834.1,82.9 L836.1,82.5 L838.3,82.3 L840.4,82.2 L842.6,82.2 L844.7,82.3 L846.8,82.6 L848.9,82.9 L850.9,83.5 L852.8,84.1 L854.7,84.8 L856.4,85.7 L858.0,86.6 L859.5,87.6 L860.9,88.8 L862.1,90.0 L863.2,91.3 L864.1,92.6 L864.8,94.0 L865.3,95.5 L865.6,96.9 L865.8,98.4 L865.7,99.9 L865.5,101.4 L865.1,102.9 L864.4,104.4 L863.6,105.8 L862.6,107.2 Z"/></clipPath>
<path d="M863.2,107.4 L862.0,108.7 L860.6,110.0 L859.1,111.2 L857.4,112.3 L855.5,113.3 L853.6,114.1 L851.5,114.9 L849.4,115.5 L847.2,116.0 L844.9,116.3 L842.6,116.5 L840.3,116.6 L838.0,116.5 L835.7,116.2 L833.4,115.9 L831.3,115.4 L829.2,114.7 L827.2,114.0 L825.3,113.1 L823.5,112.1 L821.9,111.0 L820.5,109.8 L819.2,108.5 L818.1,107.2 L817.1,105.8 L816.4,104.3 L815.9,102.8 L815.5,101.3 L815.4,99.7 L815.5,98.2 L815.7,96.7 L816.2,95.2 L816.8,93.7 L817.6,92.3 L818.6,90.9 L819.8,89.6 L821.1,88.4 L822.6,87.2 L824.2,86.1 L826.0,85.2 L827.8,84.3 L829.8,83.6 L831.8,83.0 L833.9,82.5 L836.0,82.1 L838.2,81.8 L840.4,81.7 L842.6,81.7 L844.8,81.9 L847.0,82.1 L849.1,82.5 L851.1,83.0 L853.1,83.7 L855.0,84.4 L856.8,85.3 L858.5,86.3 L860.0,87.4 L861.4,88.5 L862.7,89.8 L863.8,91.1 L864.7,92.5 L865.4,93.9 L866.0,95.4 L866.3,96.9 L866.5,98.4 L866.4,100.0 L866.2,101.5 L865.7,103.0 L865.1,104.5 L864.2,106.0 L863.2,107.4 Z" stroke-width="1.6" />
<path d="M816.5,98.0 L816.6,97.0 L816.9,96.1 L817.2,95.1 L817.6,94.2 L818.0,93.3 L818.6,92.4 L819.2,91.5 L819.9,90.7 L820.6,89.9 L821.5,89.1 L822.3,88.4 L823.3,87.7 L824.3,87.0 L825.3,86.4 L826.4,85.8 L827.5,85.2 L828.7,84.7 L829.9,84.2 L831.2,83.8 L832.5,83.5 L833.8,83.2 L835.1,82.9 L836.5,82.7 L837.8,82.5 L839.2,82.4 L840.6,82.4 L842.0,82.4 L843.3,82.4 L844.7,82.5 L846.1,82.7 L847.4,82.9 L848.7,83.1 L850.0,83.4 L851.3,83.8 L852.5,84.2 L853.7,84.7 L854.9,85.2 L856.0,85.7 L857.1,86.3 L858.1,86.9 L859.1,87.6 L860.0,88.3 L860.8,89.0 L861.6,89.8 L862.3,90.6 L863.0,91.5 L863.6,92.3 L864.1,93.2 L864.5,94.1 L864.9,95.0 L865.1,96.0 L865.3,96.9 L865.4,97.9 L865.5,98.9 L865.4,99.8 L865.3,100.8 L865.1,101.7 L864.8,102.7 L864.5,103.6 L864.0,104.6 L863.5,105.5 L862.9,106.4 L862.2,107.2 L861.4,108.1 L860.6,108.9 L859.7,109.7 L858.8,110.4 L857.8,111.1 L856.7,111.8 L855.5,112.4 L854.4,113.0" stroke-width="0.9" />
<path d="M817.4,100.5 L817.3,99.5 L817.4,98.5 L817.5,97.5 L817.7,96.5 L818.0,95.6 L818.4,94.6 L818.9,93.7 L819.4,92.7 L820.0,91.9 L820.7,91.0 L821.5,90.2 L822.4,89.4 L823.3,88.6 L824.3,87.9 L825.3,87.2 L826.4,86.5 L827.6,86.0 L828.8,85.4 L830.0,84.9 L831.3,84.5 L832.7,84.1 L834.0,83.8 L835.4,83.5 L836.8,83.3 L838.2,83.1 L839.6,83.0 L841.0,83.0 L842.5,83.0 L843.9,83.1 L845.3,83.2 L846.7,83.4 L848.1,83.7 L849.4,84.0 L850.7,84.3 L852.0,84.8 L853.3,85.2 L854.5,85.7 L855.6,86.3 L856.7,86.9 L857.7,87.6 L858.7,88.3 L859.6,89.1 L860.5,89.9 L861.2,90.7 L861.9,91.5 L862.6,92.4 L863.1,93.3 L863.5,94.3 L863.9,95.2 L864.2,96.2 L864.4,97.2 L864.5,98.2 L864.5,99.2 L864.4,100.2 L864.2,101.2 L864.0,102.2 L863.6,103.1 L863.2,104.1 L862.7,105.0 L862.1,106.0 L861.4,106.9 L860.6,107.7 L859.7,108.6 L858.8,109.4 L857.8,110.1 L856.7,110.8 L855.6,111.5 L854.4,112.1 L853.1,112.7 L851.8,113.2 L850.5,113.7" stroke-width="1.1" />
<path d="M852.4,113.6 L851.8,114.2 L851.1,114.8 L850.4,115.3 L849.6,115.8 L848.8,116.3 L847.9,116.7 L846.9,117.0 L846.0,117.3 L844.9,117.5 L843.9,117.7 L842.8,117.8 L841.8,117.8 L840.7,117.8 L839.7,117.7 L838.6,117.5 L837.6,117.3 L836.7,117.0 L835.7,116.6 L834.9,116.2 L834.0,115.7 L833.3,115.2 L832.6,114.7 L832.0,114.1 L831.5,113.5 L831.0,112.8 L830.7,112.1 L830.4,111.4 L830.2,110.7 L830.2,110.0 L830.2,109.2 L830.3,108.5 L830.5,107.8 L830.8,107.1 L831.1,106.4 L831.6,105.8 L832.1,105.1 L832.8,104.5 L833.4,104.0 L834.2,103.5 L835.0,103.0 L835.9,102.6 L836.8,102.2 L837.7,101.9 L838.7,101.7 L839.7,101.5 L840.8,101.4 L841.8,101.3 L842.8,101.3 L843.9,101.4 L844.9,101.5 L845.9,101.7 L846.9,102.0 L847.8,102.3 L848.7,102.7 L849.5,103.1 L850.3,103.6 L851.0,104.1 L851.7,104.6 L852.2,105.2 L852.7,105.9 L853.2,106.5 L853.5,107.2 L853.7,107.9 L853.9,108.6 L853.9,109.4 L853.9,110.1 L853.8,110.8 L853.6,111.5 L853.2,112.2 L852.8,112.9 L852.4,113.6 Z" stroke-width="1.2" clip-path="url(#hc2)"/>
<path d="M832.4,110.4 L832.7,110.1 L833.0,109.8 L833.3,109.5 L833.6,109.2 L834.0,109.0 L834.3,108.7 L834.7,108.5 L835.1,108.2 L835.5,108.0 L836.0,107.8 L836.4,107.6 L836.8,107.4 L837.3,107.2 L837.8,107.1 L838.3,106.9 L838.7,106.8 L839.2,106.7 L839.7,106.6 L840.3,106.5 L840.8,106.4 L841.3,106.4 L841.8,106.3 L842.3,106.3 L842.8,106.3 L843.4,106.3 L843.9,106.3 L844.4,106.4 L844.9,106.4 L845.4,106.5 L845.9,106.6 L846.4,106.7 L846.9,106.8 L847.4,107.0 L847.9,107.1 L848.3,107.3 L848.8,107.5 L849.2,107.6 L849.6,107.9 L850.0,108.1 L850.4,108.3 L850.8,108.5 L851.2,108.8 L851.5,109.1 L851.9,109.3 L852.2,109.6 L852.5,109.9 L852.8,110.2 L853.0,110.5 L853.3,110.9 L853.5,111.2 L853.7,111.5 L853.9,111.9 L854.0,112.2 L854.2,112.6 L854.3,112.9 L854.4,113.3 L854.4,113.7 L854.5,114.0 L854.5,114.4 L854.5,114.8 L854.4,115.1 L854.4,115.5 L854.3,115.9 L854.2,116.2 L854.1,116.6 L853.9,116.9 L853.8,117.3 L853.6,117.6 L853.4,118.0 L853.1,118.3 L852.9,118.6" stroke-width="1.1" clip-path="url(#hc2)"/>
<clipPath id="hc3"><path d="M801.6,181.8 L800.2,183.4 L798.6,184.9 L796.8,186.3 L794.9,187.5 L792.9,188.7 L790.7,189.7 L788.5,190.6 L786.1,191.3 L783.7,191.8 L781.2,192.2 L778.8,192.5 L776.3,192.5 L773.8,192.4 L771.4,192.1 L769.1,191.7 L766.8,191.1 L764.6,190.3 L762.5,189.4 L760.6,188.3 L758.8,187.1 L757.2,185.8 L755.8,184.4 L754.5,182.9 L753.5,181.3 L752.6,179.6 L752.0,177.9 L751.6,176.1 L751.4,174.3 L751.4,172.5 L751.6,170.7 L752.0,168.9 L752.6,167.1 L753.5,165.4 L754.5,163.7 L755.7,162.1 L757.1,160.5 L758.6,159.1 L760.3,157.7 L762.1,156.5 L764.0,155.4 L766.1,154.4 L768.2,153.5 L770.4,152.8 L772.7,152.2 L775.0,151.8 L777.4,151.5 L779.7,151.4 L782.1,151.4 L784.4,151.6 L786.7,151.9 L788.9,152.4 L791.0,153.0 L793.1,153.8 L795.0,154.7 L796.9,155.7 L798.6,156.8 L800.1,158.1 L801.5,159.5 L802.7,161.0 L803.7,162.5 L804.6,164.2 L805.2,165.9 L805.7,167.6 L805.9,169.4 L805.9,171.2 L805.7,173.0 L805.3,174.9 L804.7,176.7 L803.9,178.4 L802.8,180.1 L801.6,181.8 Z"/></clipPath>
<path d="M802.3,182.1 L800.8,183.7 L799.2,185.3 L797.4,186.7 L795.4,188.0 L793.3,189.2 L791.1,190.2 L788.7,191.1 L786.3,191.8 L783.8,192.4 L781.3,192.8 L778.8,193.1 L776.2,193.1 L773.7,193.0 L771.2,192.7 L768.8,192.2 L766.4,191.6 L764.2,190.8 L762.1,189.9 L760.1,188.8 L758.3,187.6 L756.6,186.2 L755.2,184.8 L753.9,183.2 L752.8,181.6 L751.9,179.8 L751.3,178.1 L750.8,176.2 L750.6,174.4 L750.6,172.5 L750.8,170.7 L751.3,168.8 L751.9,167.0 L752.8,165.2 L753.8,163.5 L755.1,161.8 L756.5,160.2 L758.1,158.8 L759.8,157.4 L761.6,156.1 L763.6,155.0 L765.7,153.9 L767.9,153.1 L770.2,152.3 L772.5,151.7 L774.9,151.3 L777.3,151.0 L779.7,150.8 L782.2,150.9 L784.5,151.0 L786.9,151.4 L789.2,151.9 L791.4,152.5 L793.5,153.3 L795.5,154.2 L797.3,155.3 L799.1,156.4 L800.7,157.7 L802.1,159.2 L803.4,160.7 L804.4,162.3 L805.3,164.0 L806.0,165.7 L806.4,167.5 L806.7,169.3 L806.7,171.2 L806.5,173.1 L806.1,175.0 L805.4,176.8 L804.6,178.6 L803.5,180.4 L802.3,182.1 Z" stroke-width="1.6" />
<path d="M752.0,170.4 L752.2,169.2 L752.6,168.1 L753.0,166.9 L753.6,165.8 L754.2,164.7 L754.9,163.7 L755.6,162.6 L756.4,161.6 L757.3,160.6 L758.3,159.7 L759.4,158.8 L760.4,157.9 L761.6,157.1 L762.8,156.4 L764.1,155.7 L765.4,155.0 L766.7,154.4 L768.1,153.8 L769.5,153.4 L770.9,152.9 L772.4,152.5 L773.9,152.2 L775.4,152.0 L776.9,151.8 L778.4,151.7 L779.9,151.6 L781.4,151.6 L782.9,151.7 L784.4,151.8 L785.8,152.0 L787.3,152.3 L788.7,152.6 L790.1,153.0 L791.4,153.4 L792.8,153.9 L794.0,154.5 L795.3,155.1 L796.4,155.7 L797.5,156.5 L798.6,157.2 L799.6,158.0 L800.5,158.9 L801.4,159.8 L802.2,160.7 L802.9,161.7 L803.5,162.7 L804.1,163.8 L804.5,164.9 L804.9,166.0 L805.2,167.1 L805.4,168.2 L805.6,169.4 L805.6,170.5 L805.6,171.7 L805.4,172.9 L805.2,174.1 L804.9,175.2 L804.5,176.4 L804.0,177.5 L803.4,178.6 L802.7,179.7 L802.0,180.8 L801.2,181.9 L800.3,182.9 L799.3,183.9 L798.2,184.8 L797.1,185.7 L795.9,186.6 L794.7,187.4 L793.4,188.1 L792.0,188.8" stroke-width="0.9" />
<path d="M752.7,173.5 L752.8,172.3 L752.9,171.1 L753.1,169.9 L753.5,168.7 L753.9,167.5 L754.4,166.3 L755.0,165.2 L755.7,164.1 L756.5,163.0 L757.4,162.0 L758.3,160.9 L759.3,160.0 L760.4,159.1 L761.5,158.2 L762.8,157.4 L764.0,156.6 L765.3,155.9 L766.7,155.3 L768.1,154.7 L769.6,154.1 L771.1,153.7 L772.6,153.3 L774.1,153.0 L775.7,152.7 L777.2,152.5 L778.8,152.4 L780.3,152.4 L781.9,152.4 L783.4,152.5 L785.0,152.7 L786.5,152.9 L788.0,153.2 L789.4,153.6 L790.8,154.1 L792.2,154.6 L793.5,155.1 L794.7,155.8 L795.9,156.5 L797.1,157.2 L798.2,158.0 L799.2,158.9 L800.1,159.8 L800.9,160.8 L801.7,161.8 L802.4,162.8 L803.0,163.9 L803.5,165.0 L803.9,166.1 L804.2,167.3 L804.4,168.5 L804.5,169.7 L804.5,170.9 L804.5,172.1 L804.3,173.3 L804.0,174.5 L803.6,175.7 L803.1,176.9 L802.6,178.1 L801.9,179.2 L801.1,180.3 L800.3,181.4 L799.4,182.5 L798.3,183.5 L797.2,184.4 L796.1,185.4 L794.8,186.2 L793.5,187.0 L792.1,187.8 L790.7,188.5 L789.2,189.1 L787.7,189.6" stroke-width="1.1" />
<path d="M790.9,188.2 L790.2,189.0 L789.4,189.7 L788.6,190.4 L787.7,191.0 L786.7,191.5 L785.7,192.0 L784.6,192.4 L783.5,192.7 L782.3,193.0 L781.2,193.2 L780.0,193.3 L778.8,193.3 L777.7,193.3 L776.5,193.1 L775.4,192.9 L774.3,192.6 L773.3,192.3 L772.3,191.8 L771.4,191.3 L770.6,190.8 L769.8,190.2 L769.1,189.5 L768.5,188.7 L768.0,188.0 L767.6,187.2 L767.2,186.3 L767.0,185.5 L766.9,184.6 L766.9,183.7 L767.0,182.8 L767.2,182.0 L767.4,181.1 L767.8,180.3 L768.3,179.4 L768.9,178.6 L769.5,177.9 L770.2,177.2 L771.0,176.5 L771.9,175.9 L772.9,175.3 L773.8,174.8 L774.9,174.4 L775.9,174.1 L777.0,173.8 L778.2,173.6 L779.3,173.4 L780.4,173.3 L781.6,173.4 L782.7,173.4 L783.8,173.6 L784.9,173.8 L785.9,174.2 L786.9,174.5 L787.9,175.0 L788.7,175.5 L789.5,176.1 L790.3,176.7 L790.9,177.4 L791.5,178.1 L792.0,178.9 L792.4,179.7 L792.7,180.5 L792.9,181.4 L793.0,182.2 L793.0,183.1 L792.9,184.0 L792.7,184.9 L792.4,185.8 L792.0,186.6 L791.5,187.4 L790.9,188.2 Z" stroke-width="1.2" clip-path="url(#hc3)"/>
<path d="M769.8,183.7 L770.1,183.3 L770.5,183.0 L770.8,182.6 L771.2,182.3 L771.6,182.0 L772.1,181.6 L772.5,181.3 L773.0,181.1 L773.5,180.8 L773.9,180.5 L774.4,180.3 L774.9,180.1 L775.5,179.9 L776.0,179.7 L776.5,179.5 L777.1,179.3 L777.6,179.2 L778.2,179.1 L778.8,179.0 L779.3,178.9 L779.9,178.9 L780.5,178.8 L781.0,178.8 L781.6,178.8 L782.2,178.8 L782.7,178.8 L783.3,178.9 L783.9,179.0 L784.4,179.1 L784.9,179.2 L785.5,179.3 L786.0,179.4 L786.5,179.6 L787.0,179.8 L787.5,180.0 L788.0,180.2 L788.4,180.4 L788.9,180.7 L789.3,181.0 L789.7,181.2 L790.1,181.5 L790.5,181.8 L790.9,182.2 L791.2,182.5 L791.5,182.9 L791.8,183.2 L792.1,183.6 L792.4,184.0 L792.6,184.4 L792.8,184.8 L793.0,185.2 L793.2,185.6 L793.3,186.0 L793.4,186.4 L793.5,186.9 L793.6,187.3 L793.6,187.8 L793.6,188.2 L793.6,188.6 L793.5,189.1 L793.5,189.5 L793.4,190.0 L793.3,190.4 L793.1,190.9 L793.0,191.3 L792.8,191.7 L792.6,192.1 L792.3,192.6 L792.1,193.0 L791.8,193.4 L791.5,193.8" stroke-width="1.1" clip-path="url(#hc3)"/>
<path d="M732.6,59.2 L742.9,71.0" stroke-width="0.9" />
<path d="M664.3,122.2 L675.7,134.9" stroke-width="0.9" />
<path d="M820.6,93.0 L830.9,105.7" stroke-width="0.9" />
<path d="M758.1,165.5 L769.0,176.8" stroke-width="0.9" />
<path class="w" d="M783.6,52.7 L771.4,61.4 L757.7,75.0 L743.3,88.0 L732.0,100.0 L707.7,123.3 L699.0,134.7 L723.8,175.9 L745.6,164.1 L817.0,86.5 L827.6,67.6 L805.3,42.0 L784.4,53.2 Z"/>
<path d="M749.5,80.0 L739.4,88.0 L728.3,100.0 L706.6,120.0" stroke-width="1.2" />
<path d="M783.6,52.7 L771.4,61.4 L757.7,75.0 L743.3,88.0 L732.0,100.0 L707.7,123.3" stroke-width="1.3" />
<path d="M786.0,54.0 L777.3,59.6 L763.6,75.0 L749.6,88.0 L738.4,100.0 L711.0,127.0" stroke-width="1.2" />
<path d="M788.9,54.0 L768.4,75.0 L754.5,88.0 L742.8,100.0 L714.6,127.7" stroke-width="1.2" />
<path d="M820.6,80.0 L818.2,84.9 L812.5,92.3 L745.6,164.1 L723.8,175.9" stroke-width="1.25" />
<path d="M822.5,83.5 L817.4,93.1 L748.3,166.6 L726.0,178.8" stroke-width="1.2" />
<path d="M739.3,167.8 L741.8,171.3" stroke-width="0.9" />
<path d="M782.4,51.3 C785.1,49.9 794.9,44.6 798.7,43.1 C802.5,41.6 802.4,41.5 805.3,42.0 C808.2,42.5 813.1,43.9 816.2,45.8 C819.3,47.7 822.1,50.5 823.8,53.4 C825.5,56.3 825.9,60.9 826.5,63.3 C827.1,65.7 827.4,66.9 827.6,67.6" stroke-width="1.9" />
<path d="M783.5,51.8 C785.3,51.5 790.8,49.6 794.4,50.2 C798.0,50.8 801.8,52.7 805.3,55.6 C808.8,58.5 812.9,64.0 815.1,67.6 C817.3,71.2 817.6,74.9 818.3,77.4 C819.0,80.0 819.2,82.0 819.4,82.9" stroke-width="2.3" />
<path d="M784.5,54.0 C786.1,53.9 790.9,52.5 794.4,53.4 C797.9,54.3 802.0,56.5 805.3,59.4 C808.6,62.3 812.1,67.2 814.0,70.9 C815.9,74.6 816.3,79.2 816.7,81.8 C817.1,84.3 817.2,83.8 816.2,86.2 C815.2,88.6 811.6,94.4 810.7,96.0" stroke-width="1.5" />
<path d="M826.0,66.5 L819.4,79.6" stroke-width="0.9" />
<path d="M828.7,68.7 L822.2,82.9" stroke-width="0.9" />
<path d="M699.1,134.7 C701.6,133.9 708.8,129.1 714.1,129.7 C719.4,130.2 726.1,134.1 730.9,138.0 C735.6,141.9 740.1,148.6 742.6,153.1 C745.1,157.6 745.4,162.9 745.9,164.8" stroke-width="1.0" />
<path d="M700.5,137.0 C702.8,136.3 709.3,132.1 714.1,132.7 C718.9,133.3 725.1,136.8 729.5,140.5 C733.9,144.2 738.2,150.8 740.5,155.0 C742.8,159.2 742.8,164.2 743.2,166.0" stroke-width="2.2" />
<path class="w" d="M689.6,158.0 C689.6,157.4 689.1,155.8 689.6,154.6 C690.1,153.4 691.1,151.5 692.9,150.8 C694.7,150.1 697.6,149.7 700.5,150.3 C703.4,150.9 707.5,152.4 710.4,154.6 C713.3,156.8 716.0,160.5 718.0,163.4 C720.0,166.3 721.3,169.8 722.3,172.1 C723.3,174.4 723.7,176.6 724.0,177.5 L725.6,195 L690.7,160.1 Z"/>
<path d="M689.6,157.0 C689.6,156.6 689.1,155.6 689.6,154.6 C690.1,153.6 691.1,151.5 692.9,150.8 C694.7,150.1 697.6,149.7 700.5,150.3 C703.4,150.9 707.5,152.4 710.4,154.6 C713.3,156.8 716.0,160.5 718.0,163.4 C720.0,166.3 721.3,169.8 722.3,172.1 C723.3,174.4 723.7,176.6 724.0,177.5" stroke-width="1.3" />
<path d="M690.3,156.8 C690.8,156.1 691.8,153.4 693.5,152.6 C695.2,151.8 697.8,151.5 700.5,152.1 C703.2,152.7 706.8,154.1 709.5,156.2 C712.2,158.3 714.6,161.7 716.5,164.5 C718.4,167.3 719.7,170.6 720.7,172.8 C721.7,175.1 722.1,177.1 722.4,178.0" stroke-width="1.0" />
<path d="M690.7,159.0 C691.6,158.8 694.0,157.7 696.2,157.9 C698.4,158.1 701.4,158.8 703.8,160.1 C706.2,161.4 708.6,163.5 710.4,165.5 C712.2,167.5 713.6,170.1 714.7,172.1 C715.8,174.1 716.4,176.1 716.9,177.5 C717.4,178.9 717.8,180.2 718.0,180.8" stroke-width="1.6" />
<path d="M689.6,156.0 C689.8,156.7 690.2,158.2 690.7,160.1 C691.2,162.0 691.6,165.2 692.9,167.7 C694.2,170.2 695.7,172.9 698.4,175.3 C701.1,177.7 706.0,180.1 709.3,181.9 C712.6,183.7 715.3,184.1 718.0,186.3 C720.7,188.5 724.3,193.6 725.6,195.0 L737.6,206.7 L760,216.4" stroke-width="1.9" />
<path d="M716.9,175.6 L724.0,176.6" stroke-width="0.9" />
<path d="M718.0,178.9 L725.6,177.9" stroke-width="0.9" />
<path d="M726.7,180.8 L725.6,188.4" stroke-width="0.9" />
</svg>
</body></html>
